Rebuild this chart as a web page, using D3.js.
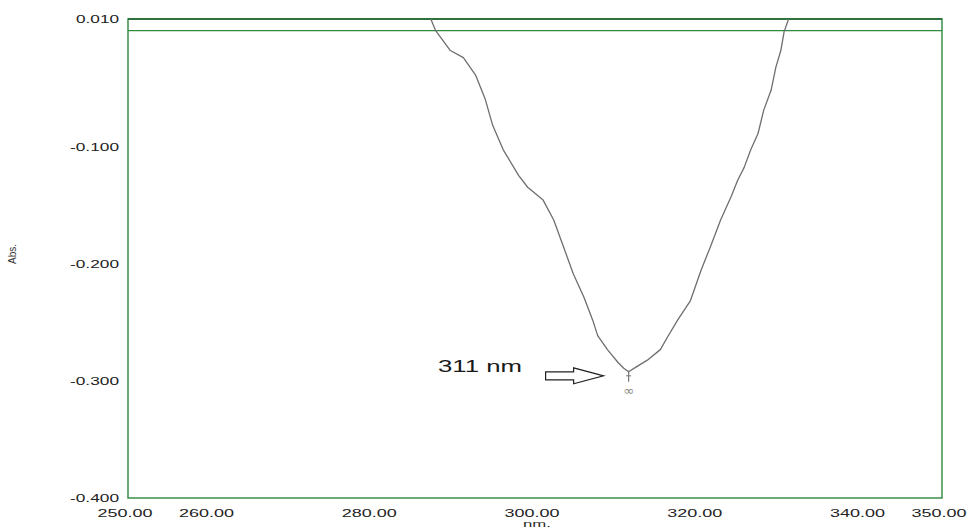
<!DOCTYPE html>
<html>
<head>
<meta charset="utf-8">
<script src="https://cdn.jsdelivr.net/npm/d3@7"></script>
<style>
  body { margin: 0; background: #fff; }
  svg { display: block; }
  .tick text { font-family: "Liberation Sans", Arial, sans-serif; font-size: 10px; fill: #222; }
</style>
</head>
<body>
<svg id="chart"></svg>
<script>
// Spectrum (wavelength in nm, absorbance)
const wavelength = [286.9, 287.2, 287.8, 289.6, 291.2, 292.7, 293.9, 294.8, 296.1, 298.0, 299.1, 301.0,
  302.3, 303.5, 304.7, 306.0, 307.1, 307.7, 308.9, 310.2, 310.9, 311.5, 312.4, 313.8, 315.4, 316.3,
  317.5, 319.1, 320.4, 321.6, 322.8, 324.1, 324.9, 325.7, 326.5, 327.4, 328.1, 329.0, 329.6, 330.2,
  330.6, 331.1, 331.3];
const absorbance = [0.016, 0.010, 0.000, -0.017, -0.023, -0.038, -0.059, -0.081, -0.102, -0.124, -0.134, -0.145,
  -0.162, -0.185, -0.208, -0.228, -0.248, -0.261, -0.273, -0.284, -0.289, -0.292, -0.288, -0.282, -0.273, -0.262,
  -0.248, -0.231, -0.205, -0.184, -0.162, -0.142, -0.128, -0.117, -0.102, -0.088, -0.068, -0.051, -0.031, -0.017,
  -0.001, 0.009, 0.014];

const xTicks = [250, 260, 280, 300, 320, 340, 350];
const yTicks = [0.010, -0.100, -0.200, -0.300, -0.400];
const peakNm = 311.5;
const peakAbs = -0.292;
const peakLabel = "311 nm";
const peakMark = "∞";

const W = 967, H = 529;
const margin = { top: 19, right: 25, bottom: 31, left: 128 };

const svg = d3.select("#chart").attr("width", W).attr("height", H);

const x = d3.scaleLinear().domain([250, 350]).range([margin.left, W - margin.right]);
const y = d3.scaleLinear().domain([-0.4, 0.01]).range([H - margin.bottom, margin.top]);

svg.append("defs").append("clipPath").attr("id", "plot")
  .append("rect")
  .attr("x", x(250)).attr("y", y(0.01))
  .attr("width", x(350) - x(250)).attr("height", y(-0.4) - y(0.01));

// zero line
svg.append("line")
  .attr("x1", x(250)).attr("x2", x(350))
  .attr("y1", y(0)).attr("y2", y(0))
  .attr("stroke", "#2f8a3c").attr("stroke-width", 1.3);

// frame
svg.append("rect")
  .attr("x", x(250)).attr("y", y(0.01))
  .attr("width", x(350) - x(250)).attr("height", y(-0.4) - y(0.01))
  .attr("fill", "none").attr("stroke", "#3a8f48").attr("stroke-width", 1.5);
svg.append("line")
  .attr("x1", x(250)).attr("x2", x(350))
  .attr("y1", y(0.01)).attr("y2", y(0.01))
  .attr("stroke", "#1d5e28").attr("stroke-width", 1.6);

// spectrum
const pts = wavelength.map((w, i) => [w, absorbance[i]]);
const line = d3.line().x(d => x(d[0])).y(d => y(d[1]));
svg.append("path")
  .datum(pts)
  .attr("clip-path", "url(#plot)")
  .attr("d", line)
  .attr("fill", "none")
  .attr("stroke", "#6e6e6e")
  .attr("stroke-width", 1.3)
  .attr("stroke-linejoin", "round");

// axes
const yAxis = d3.axisLeft(y).tickValues(yTicks).tickSize(0).tickPadding(9)
  .tickFormat(d => d.toFixed(3));
const gy = svg.append("g").attr("transform", `translate(${x(250)},0)`).call(yAxis);
gy.select(".domain").remove();
gy.selectAll("text").each(function(d) {
  d3.select(this).attr("textLength", d >= 0 ? 43 : 49).attr("lengthAdjust", "spacingAndGlyphs");
});

const xAxis = d3.axisBottom(x).tickValues(xTicks).tickSize(0).tickPadding(12)
  .tickFormat(d => d.toFixed(2));
const gx = svg.append("g").attr("transform", `translate(0,${y(-0.4)})`).call(xAxis);
gx.select(".domain").remove();
gx.selectAll("text").attr("dx", -3.5).attr("textLength", 55).attr("lengthAdjust", "spacingAndGlyphs");

// axis titles
svg.append("text")
  .attr("x", x(300) + 2).attr("y", 527)
  .attr("text-anchor", "middle")
  .attr("font-family", "Liberation Sans, Arial, sans-serif")
  .attr("font-size", 9).attr("fill", "#2a2a2a")
  .attr("textLength", 28).attr("lengthAdjust", "spacingAndGlyphs")
  .text("nm.");

svg.append("text")
  .attr("transform", "translate(16,254) rotate(-90)")
  .attr("text-anchor", "middle")
  .attr("font-family", "Liberation Sans, Arial, sans-serif")
  .attr("font-size", 10).attr("fill", "#333")
  .text("Abs.");

// peak marker
const px = x(peakNm), py = y(peakAbs);
svg.append("line")
  .attr("x1", px).attr("x2", px).attr("y1", py - 1).attr("y2", py + 10)
  .attr("stroke", "#777").attr("stroke-width", 1.2);
svg.append("line")
  .attr("x1", px - 2.5).attr("x2", px + 2.5).attr("y1", py + 4).attr("y2", py + 4)
  .attr("stroke", "#777").attr("stroke-width", 1);
svg.append("text")
  .attr("x", px).attr("y", py + 23)
  .attr("text-anchor", "middle")
  .attr("font-family", "DejaVu Sans, sans-serif")
  .attr("font-size", 13).attr("fill", "#888")
  .text(peakMark);

// arrow annotation
const tipX = px - 25, tipY = py + 4;
const arrow = [
  [tipX, tipY],
  [tipX - 30, tipY - 8],
  [tipX - 30, tipY - 4],
  [tipX - 58, tipY - 4],
  [tipX - 58, tipY + 4],
  [tipX - 30, tipY + 4],
  [tipX - 30, tipY + 8]
];
svg.append("path")
  .attr("d", d3.line()(arrow) + "Z")
  .attr("fill", "#fff")
  .attr("stroke", "#222")
  .attr("stroke-width", 1.2);

svg.append("text")
  .attr("x", 438).attr("y", py)
  .attr("font-family", "Liberation Sans, Arial, sans-serif")
  .attr("font-size", 17).attr("fill", "#1a1a1a")
  .attr("textLength", 84).attr("lengthAdjust", "spacingAndGlyphs")
  .text(peakLabel);
</script>
</body>
</html>
